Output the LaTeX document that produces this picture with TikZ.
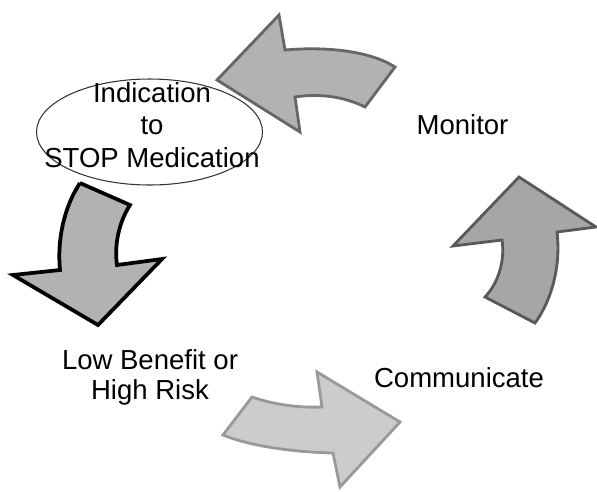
\documentclass[tikz,border=0pt]{standalone}
\usepackage{fontspec}
\setmainfont{Liberation Sans}
\usepackage{tikz}
\usetikzlibrary{shapes,positioning,calc}

\definecolor{arrowfill}{HTML}{B2B2B2}
\definecolor{arrowlight}{HTML}{CCCCCC}
\definecolor{arrowdark}{HTML}{A6A6A6}

\begin{document}
\begin{tikzpicture}[
    x=0.03cm, y=-0.03cm,
    every node/.style={font=\fontsize{23.5}{27.6}\selectfont, align=center, inner sep=0pt},
    blockarrow/.style={fill=arrowfill, line width=2.4pt, line join=miter},
    stepring/.style={ellipse, draw=black!80, line width=0.9pt, minimum width=6.78cm, minimum height=3.18cm}
]
\useasboundingbox (0,0) rectangle (597,491);

% top arrow, pointing left
\draw[blockarrow, draw=black!60]
    (217,80) -- (279,15) -- (285,50)
    .. controls (330,46) and (372,52) .. (395,67)
    -- (365,107)
    .. controls (345,97) and (320,93) .. (295,97)
    -- (300,132) -- cycle;

% left arrow, pointing down
\draw[blockarrow, draw=black, line width=3.2pt]
    (80,183) -- (130,205)
    .. controls (119,222) and (114,245) .. (117,265)
    -- (162,259) -- (98,325) -- (13,275) -- (60,270)
    .. controls (57,240) and (64,207) .. (80,183);

% bottom arrow, pointing right
\draw[blockarrow, fill=arrowlight, draw=black!40]
    (252,397) .. controls (272,404) and (297,408) .. (322,407)
    -- (317,372) -- (400,422) -- (340,487) -- (333,453)
    .. controls (292,452) and (250,446) .. (223,435) -- cycle;

% right arrow, pointing up
\draw[blockarrow, fill=arrowdark, draw=black!65]
    (485,297) .. controls (499,282) and (505,260) .. (502,240)
    -- (453,246) -- (519,177) -- (596,227) -- (557,232)
    .. controls (561,265) and (552,300) .. (535,323) -- cycle;

\node[stepring] (stopring) at (149.5,132) {};
\node (stop) at (152,125) {Indication\\to\\STOP Medication};
\node (monitor) at (462.5,125) {Monitor};
\node[font=\fontsize{23.5}{25.5}\selectfont] (lowbenefit) at (150,377) {Low Benefit or\\High Risk};
\node (communicate) at (459,377.5) {Communicate};
\end{tikzpicture}
\end{document}
